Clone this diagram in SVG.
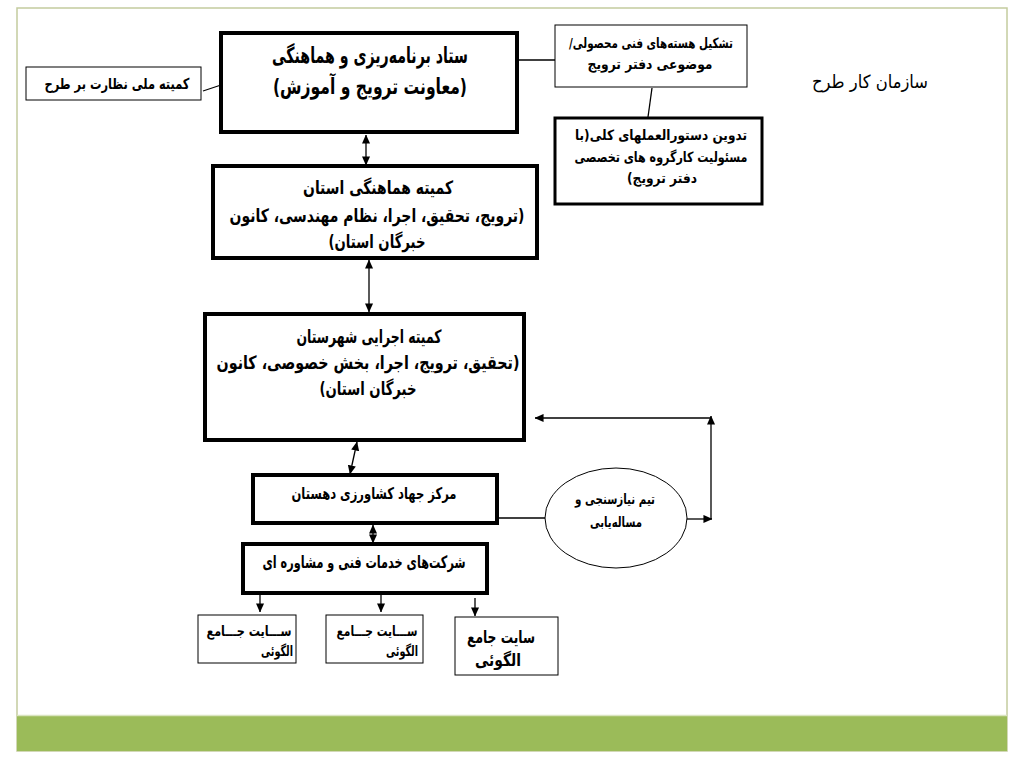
<svg xmlns="http://www.w3.org/2000/svg" width="1024" height="768" viewBox="0 0 1024 768">
<defs>
<marker id="ah" viewBox="0 0 10 10" refX="9.5" refY="5" markerWidth="9" markerHeight="9" orient="auto-start-reverse" markerUnits="userSpaceOnUse">
<path d="M0,0.5 L10,5 L0,9.5 z" fill="#000"/>
</marker>
<style>
.thick{fill:#fff;stroke:#000;stroke-width:4}
.mid{fill:#fff;stroke:#000;stroke-width:3}
.thin{fill:#fff;stroke:#000;stroke-width:1}
.t{font-family:"DejaVu Sans","Noto Sans",sans-serif;font-weight:bold;fill:#000;direction:rtl;text-anchor:middle}
.ln{fill:none;stroke:#000;stroke-width:1.3}
.arr{fill:none;stroke:#000;stroke-width:1.3;marker-end:url(#ah)}
.darr{fill:none;stroke:#000;stroke-width:1.3;marker-start:url(#ah);marker-end:url(#ah)}
</style>
</defs>
<rect x="0" y="0" width="1024" height="768" fill="#fff"/>
<rect x="17" y="8" width="990" height="743" fill="none" stroke="#c4cc9e" stroke-width="1.5"/>
<rect x="17" y="716" width="990" height="35" fill="#9bbb59"/>
<line x1="17" y1="715.5" x2="1007" y2="715.5" stroke="#d9e4bf" stroke-width="1.5"/>

<g id="connectors">
<line class="ln" x1="203" y1="91" x2="221" y2="85"/>
<line class="ln" x1="517" y1="60" x2="555" y2="60"/>
<line class="ln" x1="652" y1="88" x2="648" y2="117"/>
<line class="darr" x1="366" y1="135" x2="366" y2="165"/>
<line class="darr" x1="369" y1="260" x2="369" y2="312"/>
<line class="darr" x1="357" y1="442" x2="350" y2="474"/>
<line class="ln" x1="498" y1="518" x2="546" y2="518"/>
<line class="arr" x1="687" y1="519" x2="712" y2="519"/>
<line class="arr" x1="711" y1="519" x2="711" y2="416"/>
<line class="arr" x1="711" y1="418" x2="535" y2="418"/>
<line class="darr" x1="373" y1="525" x2="373" y2="543"/>
<line class="arr" x1="260" y1="595" x2="260" y2="612"/>
<line class="arr" x1="381" y1="595" x2="381" y2="612"/>
<line class="arr" x1="475" y1="598" x2="475" y2="616"/>
</g>

<g id="n-setad">
<rect class="thick" x="221" y="33" width="296" height="99"/>
<text class="t" x="370" y="63" font-size="22" textLength="196" lengthAdjust="spacingAndGlyphs">ستاد برنامه‌ریزی و هماهنگی</text>
<text class="t" x="370" y="94" font-size="22" textLength="194" lengthAdjust="spacingAndGlyphs">(معاونت ترویج و آموزش)</text>
</g>

<g id="n-melli">
<rect class="thin" x="26" y="67" width="175" height="33"/>
<text class="t" x="117" y="89" font-size="15" textLength="145" lengthAdjust="spacingAndGlyphs">کمیته ملی نظارت بر طرح</text>
</g>

<g id="n-hasteh">
<rect class="thin" x="555" y="25" width="192" height="62"/>
<text class="t" x="651" y="48" font-size="14" textLength="164" lengthAdjust="spacingAndGlyphs">تشکیل هسته‌های فنی محصولی/</text>
<text class="t" x="650" y="69" font-size="14" textLength="125" lengthAdjust="spacingAndGlyphs">موضوعی دفتر ترویج</text>
</g>

<g id="n-tadvin">
<rect class="mid" x="555" y="118" width="207" height="86"/>
<text class="t" x="661" y="140" font-size="14" textLength="172" lengthAdjust="spacingAndGlyphs">تدوین دستورالعملهای کلی(با</text>
<text class="t" x="661" y="162" font-size="14" textLength="173" lengthAdjust="spacingAndGlyphs">مسئولیت کارگروه های تخصصی</text>
<text class="t" x="662" y="183" font-size="14" textLength="70" lengthAdjust="spacingAndGlyphs">دفتر ترویج)</text>
</g>

<g id="n-ostan">
<rect class="thick" x="213" y="166" width="324" height="92"/>
<text class="t" x="378" y="194" font-size="18.5" textLength="150" lengthAdjust="spacingAndGlyphs">کمیته هماهنگی استان</text>
<text class="t" x="377" y="222" font-size="18.5" textLength="295" lengthAdjust="spacingAndGlyphs">(ترویج، تحقیق، اجرا،  نظام مهندسی، کانون</text>
<text class="t" x="377" y="248" font-size="18.5" textLength="97" lengthAdjust="spacingAndGlyphs">خبرگان استان)</text>
</g>

<g id="n-shahrestan">
<rect class="thick" x="205" y="314" width="319" height="126"/>
<text class="t" x="369" y="343" font-size="18.5" textLength="145" lengthAdjust="spacingAndGlyphs">کمیته اجرایی شهرستان</text>
<text class="t" x="368" y="369" font-size="18.5" textLength="303" lengthAdjust="spacingAndGlyphs">(تحقیق، ترویج، اجرا، بخش خصوصی، کانون</text>
<text class="t" x="368" y="395" font-size="18.5" textLength="97" lengthAdjust="spacingAndGlyphs">خبرگان استان)</text>
</g>

<g id="n-markaz">
<rect class="thick" x="253" y="475" width="244" height="48"/>
<text class="t" x="374" y="499" font-size="16" textLength="165" lengthAdjust="spacingAndGlyphs">مرکز جهاد کشاورزی دهستان</text>
</g>

<g id="n-team">
<ellipse cx="616" cy="518" rx="71" ry="50" fill="#fff" stroke="#000" stroke-width="1"/>
<text class="t" x="615" y="504" font-size="14" textLength="80" lengthAdjust="spacingAndGlyphs">تیم نیازسنجی و</text>
<text class="t" x="616" y="527" font-size="14" textLength="52" lengthAdjust="spacingAndGlyphs">مساله‌یابی</text>
</g>

<g id="n-sherkat">
<rect class="thick" x="243" y="544" width="244" height="49"/>
<text class="t" x="364" y="568" font-size="17" textLength="203" lengthAdjust="spacingAndGlyphs">شرکت‌های خدمات فنی و مشاوره ای</text>
</g>

<g id="n-site1">
<rect class="thin" x="198" y="615" width="98" height="48"/>
<text class="t" x="249" y="636" font-size="14" textLength="85" lengthAdjust="spacingAndGlyphs">ســـایت جـــامع</text>
<text class="t" x="277" y="656" font-size="14" textLength="32" lengthAdjust="spacingAndGlyphs">الگوئی</text>
</g>

<g id="n-site2">
<rect class="thin" x="326" y="615" width="97" height="48"/>
<text class="t" x="377" y="636" font-size="14" textLength="81" lengthAdjust="spacingAndGlyphs">ســـایت جـــامع</text>
<text class="t" x="402" y="656" font-size="14" textLength="32" lengthAdjust="spacingAndGlyphs">الگوئی</text>
</g>

<g id="n-site3">
<rect class="thin" x="455" y="617" width="103" height="58"/>
<text class="t" x="501" y="643" font-size="17" textLength="68" lengthAdjust="spacingAndGlyphs">سایت جامع</text>
<text class="t" x="498" y="666" font-size="17" textLength="46" lengthAdjust="spacingAndGlyphs">الگوئی</text>
</g>

<text x="870" y="88" font-family="DejaVu Sans, sans-serif" font-size="18" fill="#000" textLength="116" lengthAdjust="spacingAndGlyphs" style="direction:rtl;text-anchor:middle">سازمان کار طرح</text>
</svg>
